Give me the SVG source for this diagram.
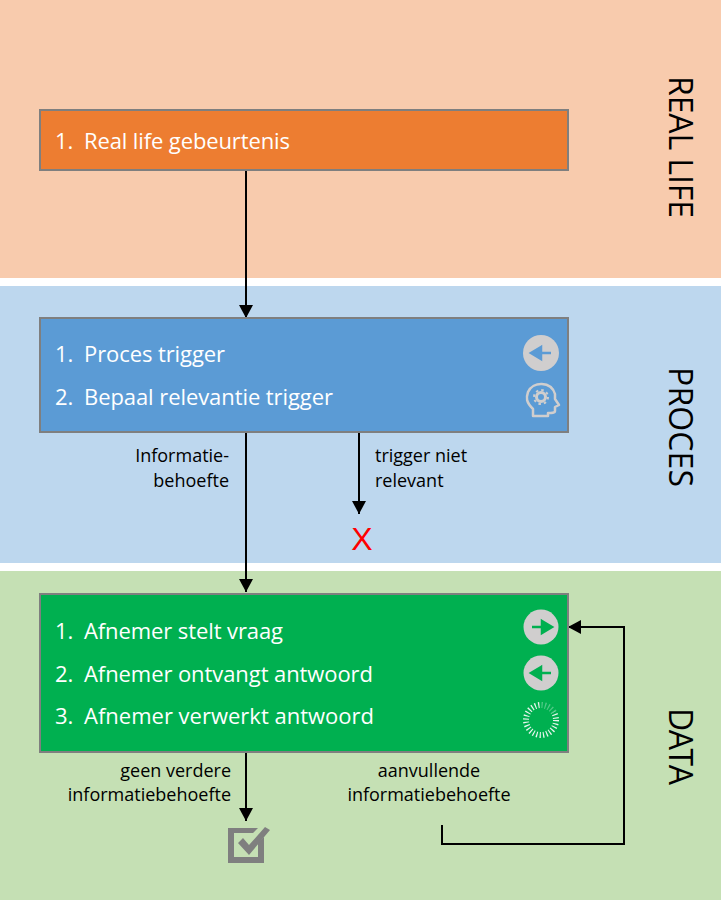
<svg xmlns="http://www.w3.org/2000/svg" width="721" height="900" viewBox="0 0 721 900">
<style>
text{font-family:"Open Sans","Noto Sans","Liberation Sans",sans-serif}
.box{stroke:#7f7f7f;stroke-width:2}
.t{font-size:22px;fill:#fff}
.l{font-size:18px;fill:#000}
.s{font-size:32px;fill:#000}
.c{fill:none;stroke:#000;stroke-width:2}
.ic{fill:#d0cece}
</style>
<defs>
<marker id="a" markerUnits="userSpaceOnUse" markerWidth="14" markerHeight="16" refX="13" refY="7" orient="auto"><path d="M0 0L13 7L0 14Z" fill="#000"/></marker>
</defs>
<rect width="721" height="278" fill="#f8cbad"/>
<rect y="286" width="721" height="277" fill="#bdd7ee"/>
<rect y="571" width="721" height="329" fill="#c5e0b4"/>
<g id="band-labels">
<text class="s" transform="translate(669 76) rotate(90)" textLength="142">REAL LIFE</text>
<text class="s" transform="translate(669 367) rotate(90)" textLength="120">PROCES</text>
<text class="s" transform="translate(669 708) rotate(90)" textLength="77">DATA</text>
</g>
<g id="connectors">
<path class="c" d="M246 171V318" marker-end="url(#a)"/>
<path class="c" d="M246 433V592" marker-end="url(#a)"/>
<path class="c" d="M359 433V514" marker-end="url(#a)"/>
<path class="c" d="M246 753V821" marker-end="url(#a)"/>
<path class="c" d="M442 825V844H624V627H568" marker-end="url(#a)"/>
</g>
<g id="node-real-life">
<rect class="box" x="40" y="110" width="528" height="60" fill="#ed7d31"/>
<text class="t" x="55" y="149">1.</text><text class="t" x="84" y="149" textLength="206">Real life gebeurtenis</text>
</g>
<g id="node-proces">
<rect class="box" x="40" y="318" width="528" height="114" fill="#5b9bd5"/>
<text class="t" x="55" y="362">1.</text><text class="t" x="84" y="362" textLength="141">Proces trigger</text>
<text class="t" x="55" y="405">2.</text><text class="t" x="84" y="405" textLength="249">Bepaal relevantie trigger</text>
<circle class="ic" cx="541" cy="353" r="18"/>
<path d="M551 353H537M541 347L531 353L541 359Z" fill="#5b9bd5" stroke="#5b9bd5" stroke-width="2.5"/>
<path d="M533 416V409C526 402 526 398 528 392C533 381 551 381 555 394L555 399L559 405L555 407V411C555 413 552 413 548 413V416Z" fill="none" stroke="#d0cece" stroke-width="2.5" stroke-linejoin="round"/>
<circle cx="541" cy="397" r="4.5" fill="none" stroke="#d0cece" stroke-width="3"/>
<circle cx="541" cy="397" r="7" fill="none" stroke="#d0cece" stroke-width="2" stroke-dasharray="2.5 3"/>
</g>
<g id="node-data">
<rect class="box" x="40" y="594" width="528" height="158" fill="#00b050"/>
<text class="t" x="55" y="639">1.</text><text class="t" x="84" y="639" textLength="199">Afnemer stelt vraag</text>
<text class="t" x="55" y="682">2.</text><text class="t" x="84" y="682" textLength="289">Afnemer ontvangt antwoord</text>
<text class="t" x="55" y="724">3.</text><text class="t" x="84" y="724" textLength="290">Afnemer verwerkt antwoord</text>
<circle class="ic" cx="541" cy="627" r="17.5"/>
<path d="M532 627H546M542 621L552 627L542 633Z" fill="#00b050" stroke="#00b050" stroke-width="2.5"/>
<circle class="ic" cx="541" cy="673" r="17.5"/>
<path d="M551 673H537M541 667L531 673L541 679Z" fill="#00b050" stroke="#00b050" stroke-width="2.5"/>
<circle cx="541" cy="720" r="15" fill="none" stroke="#e8f5ee" stroke-width="6" stroke-dasharray="1.2 2.17"/>
<path d="M541 705A15 15 0 0 1 554 712" fill="none" stroke="#00b050" stroke-width="7" stroke-opacity=".65"/>
</g>
<g id="labels">
<text class="l" x="229" y="462" text-anchor="end">Informatie-</text>
<text class="l" x="229" y="487" text-anchor="end">behoefte</text>
<text class="l" x="375" y="462">trigger niet</text>
<text class="l" x="375" y="487">relevant</text>
<text class="l" x="231" y="777" text-anchor="end">geen verdere</text>
<text class="l" x="231" y="801" text-anchor="end">informatiebehoefte</text>
<text class="l" x="429" y="777" text-anchor="middle">aanvullende</text>
<text class="l" x="429" y="801" text-anchor="middle">informatiebehoefte</text>
</g>
<g id="node-stop">
<text x="362" y="550" font-size="32" fill="#ff0000" text-anchor="middle" style="font-family:'Liberation Sans',sans-serif">X</text>
</g>
<g id="node-done">
<path d="M228 828H258L253 833H234V857H258V843L264 837V863H228Z" fill="#7f7f7f"/>
<path d="M238 843L243 838L249 845L265 827L270 830L249 855Z" fill="#7f7f7f"/>
</g>
</svg>
